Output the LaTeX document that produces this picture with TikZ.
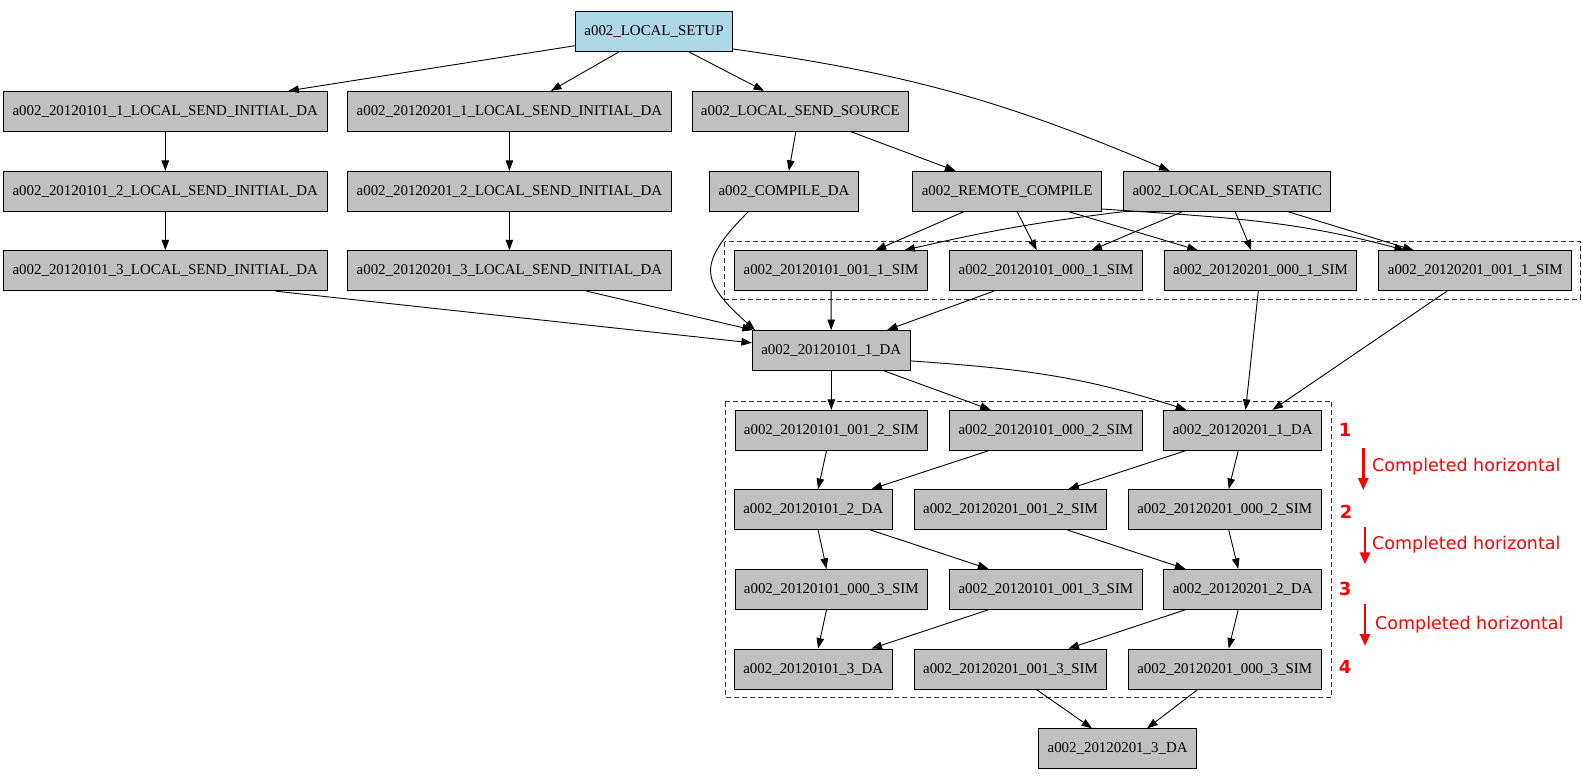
\documentclass[tikz,border=0pt]{standalone}
\usepackage{fontspec}
\setmainfont{Liberation Serif}
\newfontfamily\notefont{DejaVu Sans}
\usetikzlibrary{arrows.meta,calc}
\definecolor{boxgray}{HTML}{C0C0C0}
\definecolor{setupblue}{HTML}{ADD8E6}
\definecolor{notered}{HTML}{FF0000}
\tikzset{
  box/.style={draw=black, line width=0.9pt, fill=boxgray, minimum height=40pt,
    inner xsep=9pt, inner ysep=0pt, font=\fontsize{14.9}{17}\selectfont},
  setupbox/.style={box, fill=setupblue},
  conn/.style={-{Triangle[length=10.5pt,width=7.5pt]}, line width=0.9pt},
  clusterbox/.style={draw=black!80, dash pattern=on 5pt off 3pt, line width=0.9pt},
  numlabel/.style={text=notered, anchor=base, inner sep=0pt, font=\notefont\bfseries\fontsize{18}{20}\selectfont},
  notelabel/.style={text=notered, anchor=base west, inner sep=0pt, font=\notefont\fontsize{17.5}{20}\selectfont},
  notearrow/.style={draw=notered, line width=2.5pt, -{Triangle[length=12pt,width=10pt]}}
}
\begin{document}
\begin{tikzpicture}[x=1pt,y=-1pt]
\useasboundingbox (0,0) rectangle (1582,776);
% clusters
\draw[clusterbox] (724.9,241.7) rectangle (1580,299);
\draw[clusterbox] (725.3,401.5) rectangle (1331.6,697.3);
% nodes
\node[setupbox] (setup) at (654,31.7) {a002\_LOCAL\_SETUP};
\node[box] (l1a) at (165.3,111.3) {a002\_20120101\_1\_LOCAL\_SEND\_INITIAL\_DA};
\node[box] (l1b) at (509.4,111.3) {a002\_20120201\_1\_LOCAL\_SEND\_INITIAL\_DA};
\node[box] (src) at (800.3,111.3) {a002\_LOCAL\_SEND\_SOURCE};
\node[box] (l2a) at (165.3,191.3) {a002\_20120101\_2\_LOCAL\_SEND\_INITIAL\_DA};
\node[box] (l2b) at (509.4,191.3) {a002\_20120201\_2\_LOCAL\_SEND\_INITIAL\_DA};
\node[box] (cmp) at (783.9,191.3) {a002\_COMPILE\_DA};
\node[box] (rcmp) at (1007.1,191.3) {a002\_REMOTE\_COMPILE};
\node[box] (stat) at (1227.2,191.3) {a002\_LOCAL\_SEND\_STATIC};
\node[box] (l3a) at (165.3,270.7) {a002\_20120101\_3\_LOCAL\_SEND\_INITIAL\_DA};
\node[box] (l3b) at (509.4,270.7) {a002\_20120201\_3\_LOCAL\_SEND\_INITIAL\_DA};
\node[box] (sa1) at (831,270.7) {a002\_20120101\_001\_1\_SIM};
\node[box] (sb1) at (1046,270.7) {a002\_20120101\_000\_1\_SIM};
\node[box] (sc1) at (1260.5,270.7) {a002\_20120201\_000\_1\_SIM};
\node[box] (sd1) at (1475.2,270.7) {a002\_20120201\_001\_1\_SIM};
\node[box] (daA1) at (831.3,350.5) {a002\_20120101\_1\_DA};
\node[box] (sa2) at (831.3,430.3) {a002\_20120101\_001\_2\_SIM};
\node[box] (sb2) at (1045.9,430.3) {a002\_20120101\_000\_2\_SIM};
\node[box] (daB1) at (1242.7,430.3) {a002\_20120201\_1\_DA};
\node[box] (daA2) at (813.3,509.5) {a002\_20120101\_2\_DA};
\node[box] (sc2) at (1010.5,509.5) {a002\_20120201\_001\_2\_SIM};
\node[box] (sd2) at (1224.7,509.5) {a002\_20120201\_000\_2\_SIM};
\node[box] (sa3) at (831.3,589.3) {a002\_20120101\_000\_3\_SIM};
\node[box] (sb3) at (1045.9,589.3) {a002\_20120101\_001\_3\_SIM};
\node[box] (daB2) at (1242.7,589.3) {a002\_20120201\_2\_DA};
\node[box] (daA3) at (813.3,669) {a002\_20120101\_3\_DA};
\node[box] (sc3) at (1010.5,669) {a002\_20120201\_001\_3\_SIM};
\node[box] (sd3) at (1224.7,669) {a002\_20120201\_000\_3\_SIM};
\node[box] (daB3) at (1117.6,748.8) {a002\_20120201\_3\_DA};
% edges from setup
\draw[conn] ($(setup.west)+(0,14)$) -- ($(l1a.north)+(123,0)$);
\draw[conn] ($(setup.south)+(-35.5,0)$) -- ($(l1b.north)+(41.6,0)$);
\draw[conn] ($(setup.south)+(35.4,0)$) -- ($(src.north)+(-36.3,0)$);
\draw[conn] ($(setup.east)+(0,17.3)$) to[out=-8,in=157] ($(stat.north)+(-57.7,0)$);
% initial DA chains
\draw[conn] (l1a) -- (l2a);
\draw[conn] (l2a) -- (l3a);
\draw[conn] (l1b) -- (l2b);
\draw[conn] (l2b) -- (l3b);
% source
\draw[conn] ($(src.south)+(-4.5,0)$) -- ($(cmp.north)+(5,0)$);
\draw[conn] ($(src.south)+(50.7,0)$) -- ($(rcmp.north)+(-51.6,0)$);
\draw[conn] ($(cmp.south)+(-35.6,0)$) .. controls +(-52.7,52.7) and +(-54,-48.5) .. ($(daA1.north west)+(3,0)$);
% remote compile
\draw[conn] ($(rcmp.south)+(-43.4,0)$) -- ($(sa1.north)+(44.6,0)$);
\draw[conn] ($(rcmp.south)+(10.1,0)$) -- ($(sb1.north)+(-9.3,0)$);
\draw[conn] ($(rcmp.south)+(61.9,0)$) -- ($(sc1.north)+(-62.7,0)$);
\draw[conn] ($(rcmp.east)+(0,17.7)$) to[out=-4,in=165] ($(sd1.north)+(-70.2,0)$);
% send static
\draw[conn] ($(stat.south)+(-104.7,0)$) to[out=187,in=13] ($(sa1.north)+(73.4,0)$);
\draw[conn] ($(stat.south)+(-44.9,0)$) -- ($(sb1.north)+(45.4,0)$);
\draw[conn] ($(stat.south)+(8,0)$) -- ($(sc1.north)+(-9.2,0)$);
\draw[conn] ($(stat.south)+(61,0)$) -- ($(sd1.north)+(-61.6,0)$);
% into 20120101_1_DA
\draw[conn] ($(l3a.south)+(110.2,0)$) -- ($(daA1.west)+(0,-7.6)$);
\draw[conn] ($(l3b.south)+(77.3,0)$) -- ($(daA1.north west)+(1,0)$);
\draw[conn] (sa1) -- (daA1);
\draw[conn] ($(sb1.south)+(-52.4,0)$) -- ($(daA1.north)+(55.8,0)$);
% into 20120201_1_DA
\draw[conn] ($(sc1.south)+(-2.2,0)$) -- ($(daB1.north)+(2.9,0)$);
\draw[conn] ($(sd1.south)+(-28.2,0)$) -- ($(daB1.north)+(29.9,0)$);
% from 20120101_1_DA
\draw[conn] (daA1) -- (sa2);
\draw[conn] ($(daA1.south)+(53,0)$) -- ($(sb2.north)+(-55.2,0)$);
\draw[conn] ($(daA1.east)+(0,10.4)$) to[out=-4,in=162] ($(daB1.north)+(-56.4,0)$);
% row 1 -> row 2
\draw[conn] ($(sa2.south)+(-4.8,0)$) -- ($(daA2.north)+(4.8,0)$);
\draw[conn] ($(sb2.south)+(-57.4,0)$) -- ($(daA2.north)+(58.2,0)$);
\draw[conn] ($(daB1.south)+(-57.3,0)$) -- ($(sc2.north)+(57.9,0)$);
\draw[conn] ($(daB1.south)+(-4.5,0)$) -- ($(sd2.north)+(4,0)$);
% row 2 -> row 3
\draw[conn] ($(daA2.south)+(4.8,0)$) -- ($(sa3.north)+(-4.8,0)$);
\draw[conn] ($(daA2.south)+(57.1,0)$) -- ($(sb3.north)+(-57.4,0)$);
\draw[conn] ($(sc2.south)+(56.8,0)$) -- ($(daB2.north)+(-57.3,0)$);
\draw[conn] ($(sd2.south)+(4,0)$) -- ($(daB2.north)+(-4.5,0)$);
% row 3 -> row 4
\draw[conn] ($(sa3.south)+(-4.8,0)$) -- ($(daA3.north)+(4.8,0)$);
\draw[conn] ($(sb3.south)+(-57.4,0)$) -- ($(daA3.north)+(58.2,0)$);
\draw[conn] ($(daB2.south)+(-57.3,0)$) -- ($(sc3.north)+(57.9,0)$);
\draw[conn] ($(daB2.south)+(-4.5,0)$) -- ($(sd3.north)+(4,0)$);
% final
\draw[conn] ($(sc3.south)+(25.8,0)$) -- ($(daB3.north)+(-25.6,0)$);
\draw[conn] ($(sd3.south)+(-26.9,0)$) -- ($(daB3.north)+(29.5,0)$);
% annotations
\node[numlabel] (n1) at (1345,436.6) {1};
\node[numlabel] (n2) at (1346,518.3) {2};
\node[numlabel] (n3) at (1345,595.6) {3};
\node[numlabel] (n4) at (1345,673.3) {4};
\coordinate (a1s) at (1363.3,448.3);
\coordinate (a1e) at (1363.3,490);
\coordinate (a2s) at (1365,527.3);
\coordinate (a2e) at (1365,564.3);
\coordinate (a3s) at (1365,604.3);
\coordinate (a3e) at (1365,646);
\draw[notearrow] (a1s) -- (a1e);
\draw[notearrow] (a2s) -- (a2e);
\draw[notearrow] (a3s) -- (a3e);
\node[notelabel] (t1) at (1372,471.1) {Completed horizontal};
\node[notelabel] (t2) at (1372,549.4) {Completed horizontal};
\node[notelabel] (t3) at (1375,629.2) {Completed horizontal};
\end{tikzpicture}
\end{document}
